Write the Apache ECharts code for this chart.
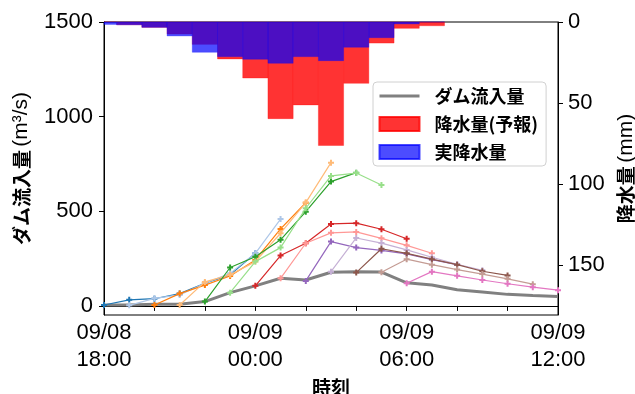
<!DOCTYPE html>
<html>
<head>
<meta charset="utf-8">
<script src="https://cdn.jsdelivr.net/npm/echarts@6/dist/echarts.min.js"></script>
<style>
  html, body { margin: 0; padding: 0; background: #fff; }
  #chart { width: 635px; height: 394px; }
</style>
</head>
<body>
<div id="chart"></div>
<script>
// x = hours since 09/08 18:00
const xTickValues = [0, 2, 4, 6, 8, 10, 12, 14, 16, 18];
const xLabelValues = [0, 6, 12, 18];
const xLabelTexts = ['09/08\n18:00', '09/09\n00:00', '09/09\n06:00', '09/09\n12:00'];
const yTickValues = [0, 500, 1000, 1500];
const rainTickValues = [0, 50, 100, 150];

// observed dam inflow (m3/s), hourly from 18:00 to 12:00
const obsInflow = [5, 5, 9, 9, 23, 70, 106, 146, 137, 178, 181, 179, 122, 111, 85, 74, 61, 55, 50];

// hourly rainfall (mm), hour index from 18:00
const rainHours = [0, 1, 2, 3, 4, 5, 6, 7, 8, 9, 10, 11, 12, 13];
const rainForecast = [0, 1.7, 3.3, 7.4, 13.8, 22.8, 34.6, 59.7, 51.2, 76.3, 37.9, 13, 3.9, 2.3];
const rainObserved = [1.5, 1.7, 3.3, 8.6, 18.7, 21.4, 23, 25.5, 21.4, 23.9, 15.6, 9.7, 1.2, 0];

// inflow forecasts, 7 hourly points each, issued every hour
const issueHours = [0, 1, 2, 3, 4, 5, 6, 7, 8, 9, 10, 11, 12];
const fc1800 = [5, 32, 38, 65, 120, 164, 278];
const fc1900 = [3, 40, 58, 120, 172, 278, 459];
const fc2000 = [5, 65, 110, 158, 243, 407, 545];
const fc2100 = [5, 127, 164, 234, 384, 546, 757];
const fc2200 = [23, 203, 260, 349, 498, 657, 704];
const fc2300 = [70, 234, 308, 516, 687, 702, 639];
const fc0000 = [106, 266, 331, 433, 437, 405, 355];
const fc0100 = [146, 331, 386, 391, 357, 320, 278];
const fc0200 = [132, 340, 308, 293, 275, 245, 218];
const fc0300 = [181, 359, 332, 296, 257, 220, 188];
const fc0400 = [176, 302, 278, 247, 218, 183, 161];
const fc0500 = [178, 247, 218, 192, 168, 143, 115];
const fc0600 = [120, 181, 159, 137, 117, 99, 83];
const forecasts = [fc1800, fc1900, fc2000, fc2100, fc2200, fc2300, fc0000,
                   fc0100, fc0200, fc0300, fc0400, fc0500, fc0600];

const fcColors = ['#1f77b4', '#aec7e8', '#ff7f0e', '#ffbb78', '#2ca02c', '#98df8a', '#d62728',
                  '#ff9896', '#9467bd', '#c5b0d5', '#8c564b', '#c49c94', '#e377c2'];

const numFont = "'Liberation Sans', Arial, sans-serif";
const jpFont = "'Noto Sans CJK JP', sans-serif";
const RED = 'rgba(255,0,0,0.8)';
const BLUE = 'rgba(0,0,255,0.7)';

// 1時間幅の棒 (中心が正時)
function rainBar(params, api) {
  const x = api.value(0), v = api.value(1);
  const p0 = api.coord([x - 0.5, 0]);
  const p1 = api.coord([x + 0.5, v]);
  const cs = params.coordSys;
  const shape = echarts.graphic.clipRectByRect({
    x: p0[0], y: Math.min(p0[1], p1[1]),
    width: p1[0] - p0[0], height: Math.abs(p1[1] - p0[1])
  }, { x: cs.x, y: cs.y, width: cs.width, height: cs.height });
  return shape && { type: 'rect', shape: shape, style: api.style() };
}

const series = [
  {
    name: '降水量(予報)', type: 'custom', renderItem: rainBar,
    xAxisIndex: 0, yAxisIndex: 1, encode: { x: 0, y: 1 },
    itemStyle: { color: RED, borderColor: RED, borderWidth: 0.4 },
    data: rainHours.map((h, i) => [h, rainForecast[i]]), z: 1
  },
  {
    name: '実降水量', type: 'custom', renderItem: rainBar,
    xAxisIndex: 0, yAxisIndex: 1, encode: { x: 0, y: 1 },
    itemStyle: { color: BLUE, borderColor: BLUE, borderWidth: 0.4 },
    data: rainHours.map((h, i) => [h, rainObserved[i]]), z: 2
  },
  {
    name: 'ダム流入量', type: 'line', symbol: 'none',
    lineStyle: { color: '#808080', width: 3 }, itemStyle: { color: '#808080' },
    data: obsInflow.map((v, i) => [i, v]), z: 3
  }
];

forecasts.forEach((fc, k) => {
  series.push({
    name: 'fc' + k, type: 'line',
    symbol: 'path://M2,0H4V2H6V4H4V6H2V4H0V2H2Z', symbolSize: 6,
    lineStyle: { color: fcColors[k], width: 1.2 },
    itemStyle: { color: fcColors[k] },
    data: fc.map((v, j) => [issueHours[k] + j, v]), z: 4 + k
  });
});

const chart = echarts.init(document.getElementById('chart'));
chart.setOption({
  animation: false,
  grid: {
    left: 104, right: 77, top: 22, bottom: 79, containLabel: false, outerBoundsMode: 'none',
    show: true, borderColor: '#000', borderWidth: 1
  },
  legend: {
    data: [
      { name: 'ダム流入量', itemStyle: { opacity: 0 }, lineStyle: { color: '#808080', width: 3 } },
      { name: '降水量(予報)', icon: 'rect', itemStyle: { color: RED } },
      { name: '実降水量', icon: 'rect', itemStyle: { color: BLUE } }
    ],
    orient: 'vertical', left: 373, top: 82,
    itemWidth: 40, itemHeight: 14, itemGap: 10,
    padding: [5, 8, 5, 5],
    backgroundColor: 'rgba(255,255,255,0.85)', borderColor: '#d0d0d0', borderWidth: 1, borderRadius: 4,
    textStyle: { fontFamily: jpFont, fontWeight: 'bold', fontSize: 18, color: '#000', padding: [0, 0, 0, 10] }
  },
  xAxis: {
    type: 'value', min: 0, max: 18,
    name: '時刻', nameLocation: 'middle', nameGap: 58,
    nameTextStyle: { fontFamily: jpFont, fontWeight: 'bold', fontSize: 19, color: '#000' },
    axisLine: { lineStyle: { color: '#000', width: 1 } },
    axisTick: { show: true, length: 5, lineStyle: { color: '#000' }, customValues: xTickValues },
    axisLabel: {
      customValues: xLabelValues, showMinLabel: true, showMaxLabel: true,
      fontFamily: numFont, fontSize: 22, color: '#000', lineHeight: 27, margin: 4,
      formatter: v => xLabelTexts[xLabelValues.indexOf(v)]
    },
    splitLine: { show: false }
  },
  yAxis: [
    {
      type: 'value', min: -48, max: 1500, position: 'left',
      name: '{b|ダム流入量} {n|(m³/s)}', nameLocation: 'middle', nameGap: 72, nameRotate: 90,
      nameTextStyle: {
        rich: {
          b: { fontFamily: jpFont, fontWeight: 'bold', fontSize: 19, color: '#000' },
          n: { fontFamily: numFont, fontSize: 21, color: '#000' }
        }
      },
      axisLine: { show: true, lineStyle: { color: '#000', width: 1 } },
      axisTick: { show: true, length: 5, lineStyle: { color: '#000' }, customValues: yTickValues },
      axisLabel: {
        customValues: yTickValues, fontFamily: numFont, fontSize: 22, color: '#000', margin: 11,
        formatter: v => String(v)
      },
      splitLine: { show: false }
    },
    {
      type: 'value', min: 0, max: 181, inverse: true, position: 'right',
      name: '{b|降水量} {n|(mm)}', nameLocation: 'middle', nameGap: 54, nameRotate: 90,
      nameTextStyle: {
        rich: {
          b: { fontFamily: jpFont, fontWeight: 'bold', fontSize: 19, color: '#000' },
          n: { fontFamily: numFont, fontSize: 21, color: '#000' }
        }
      },
      axisLine: { show: true, lineStyle: { color: '#000', width: 1 } },
      axisTick: { show: true, length: 5, lineStyle: { color: '#000' }, customValues: rainTickValues },
      axisLabel: {
        customValues: rainTickValues, fontFamily: numFont, fontSize: 22, color: '#000', margin: 10,
        formatter: v => String(v)
      },
      splitLine: { show: false }
    }
  ],
  series: series
});
</script>
</body>
</html>
